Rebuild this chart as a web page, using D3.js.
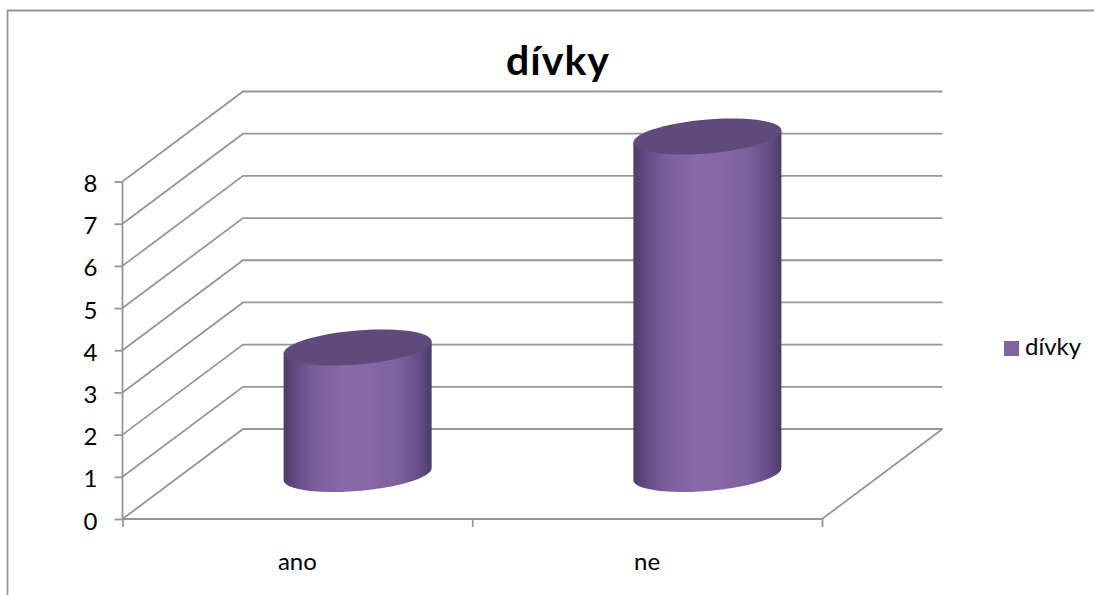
<!DOCTYPE html>
<html lang="cs">
<head>
<meta charset="utf-8">
<title>dívky</title>
<script src="https://cdn.jsdelivr.net/npm/d3@7"></script>
<style>
  html, body { margin: 0; padding: 0; background: #fff; }
  svg { display: block; }
  text { font-family: Lato, "Open Sans", sans-serif; fill: #000; }
</style>
</head>
<body>
<svg id="chart" width="1094" height="595"></svg>
<script>
const chartTitle = "dívky";
const seriesName = "dívky";
const categories = ["ano", "ne"];
const values = [3, 8];
const yTickValues = [0, 1, 2, 3, 4, 5, 6, 7, 8];

const W = 1094, H = 595;
const lineColor = "#979797";
const labelSize = 24;
const floorLeft = 122.5, floorRight = 822, floorY = 519, topY = 181.5;
const depthX = 120.5, depthY = 90;   // offset of the back wall from the front edge
const cylWidth = 148, shear = 6, minorAxis = 17;

const svg = d3.select("#chart");

const y = d3.scaleLinear().domain([0, 8]).range([floorY, topY]);
const xEdge = d3.scaleLinear().domain([0, categories.length]).range([floorLeft, floorRight]);
const x = d3.scaleBand().domain(categories).range([floorLeft, floorRight]);

// Outer frame: only the top and left edges fall inside the canvas
svg.append("path")
  .attr("d", `M7.5,${H}V10.5H${W}`)
  .attr("fill", "none").attr("stroke", lineColor).attr("stroke-width", 1.8);

// Gridlines run up the side wall, then across the back wall
const grid = svg.append("g").attr("fill", "none").attr("stroke", lineColor).attr("stroke-width", 1.8);
grid.selectAll("path").data(yTickValues).join("path")
  .attr("d", v => d3.line()([
    [floorLeft, y(v)],
    [floorLeft + depthX, y(v) - depthY],
    [floorRight + depthX, y(v) - depthY]
  ]));
// Right edge of the floor
grid.append("path").attr("d", d3.line()([
  [floorRight, floorY],
  [floorRight + depthX, floorY - depthY]
]));

// Axes
const yAxis = svg.append("g")
  .attr("transform", `translate(${floorLeft},0)`)
  .call(d3.axisLeft(y).tickValues(yTickValues).tickSize(8).tickPadding(17).tickFormat(d3.format("d")));
const xAxis = svg.append("g")
  .attr("transform", `translate(0,${floorY})`)
  .call(d3.axisBottom(xEdge).tickValues(d3.range(categories.length + 1)).tickSize(8).tickFormat(""));
[yAxis, xAxis].forEach(a => {
  a.selectAll("path.domain, line").attr("stroke", lineColor).attr("stroke-width", 1.8);
  a.select("path.domain").attr("d", a === yAxis
    ? `M0,${y(8)}V${y(0)}`
    : `M${floorLeft},0H${floorRight}`);
});
yAxis.selectAll("text").attr("font-size", labelSize).attr("dy", "0.42em")
  .style("font-family", 'Lato, "Open Sans", sans-serif');

svg.append("g").selectAll("text").data(categories).join("text")
  .attr("x", d => x(d) + x.bandwidth() / 2)
  .attr("y", 570)
  .attr("text-anchor", "middle")
  .attr("font-size", labelSize)
  .text(d => d);

// Horizontal shading across the cylinder wall
const defs = svg.append("defs");
const grad = defs.append("linearGradient").attr("id", "cylWall")
  .attr("x1", 0).attr("x2", 1).attr("y1", 0).attr("y2", 0);
[[0, "#4d3b66"], [0.08, "#634b83"], [0.22, "#7b5f9d"], [0.42, "#8869a9"],
 [0.58, "#8667a7"], [0.78, "#7d609e"], [0.92, "#654c85"], [1, "#4d3b66"]]
  .forEach(([o, c]) => grad.append("stop").attr("offset", o).attr("stop-color", c));

// A point on the sheared ellipse that forms a cylinder cap
const capPoint = (cx, cy, t) => [
  cx + cylWidth / 2 * Math.cos(t),
  cy - minorAxis * Math.sin(t) - shear * Math.cos(t)
];
const capLine = d3.line();
const angles = (from, to) => d3.range(0, 61).map(i => from + (to - from) * i / 60);

const bars = svg.append("g").selectAll("g")
  .data(categories.map((c, i) => ({ c, v: values[i] })))
  .join("g");

bars.append("path")
  .attr("fill", "url(#cylWall)")
  .attr("d", d => {
    const cx = x(d.c) + x.bandwidth() / 2 + depthX / 2;
    const base = floorY - depthY / 2;
    const top = base - (y(0) - y(d.v));
    const lower = angles(Math.PI, 2 * Math.PI).map(t => capPoint(cx, base, t));
    return capLine([capPoint(cx, top, Math.PI), ...lower, capPoint(cx, top, 0)]) + "Z";
  });

bars.append("path")
  .attr("fill", "#604a7b")
  .attr("d", d => {
    const cx = x(d.c) + x.bandwidth() / 2 + depthX / 2;
    const top = floorY - depthY / 2 - (y(0) - y(d.v));
    return capLine(angles(0, 2 * Math.PI).map(t => capPoint(cx, top, t))) + "Z";
  });

// Title
svg.append("text")
  .attr("x", 558).attr("y", 75)
  .attr("text-anchor", "middle")
  .attr("font-size", 41).attr("font-weight", 700)
  .attr("letter-spacing", 1)
  .text(chartTitle);

// Legend
svg.append("rect").attr("x", 1004).attr("y", 341).attr("width", 15).attr("height", 15).attr("fill", "#8064a2");
svg.append("text").attr("x", 1025).attr("y", 355).attr("font-size", labelSize).text(seriesName);
</script>
</body>
</html>
